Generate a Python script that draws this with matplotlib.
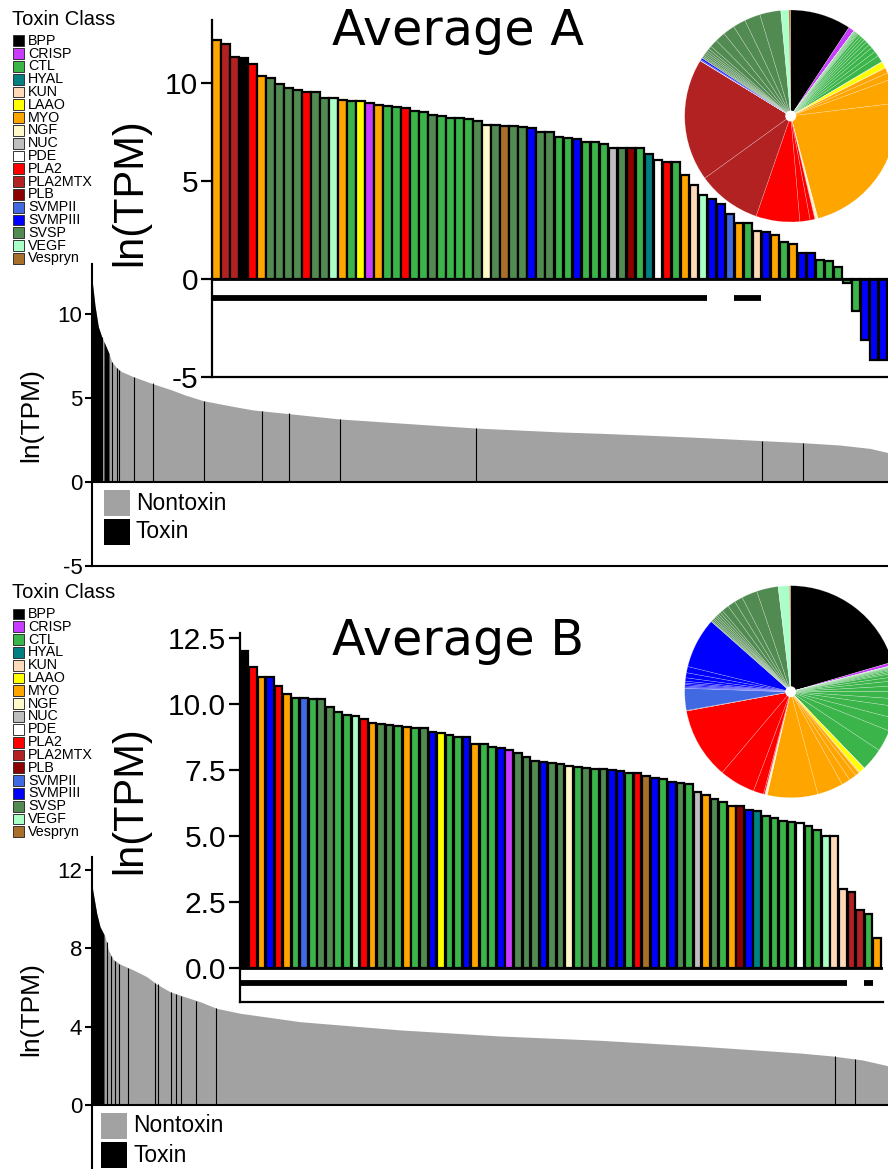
#! python3
import numpy as np
import matplotlib
matplotlib.use("Agg")
from matplotlib import pyplot as plt
from matplotlib.patches import Rectangle, Circle

W, H = 888, 1169
plt.rcParams['font.family'] = ['Liberation Sans', 'DejaVu Sans']
plt.rcParams['axes.unicode_minus'] = False

# --------- DATA ---------

classes = ['BPP', 'CRISP', 'CTL', 'HYAL', 'KUN', 'LAAO', 'MYO', 'NGF', 'NUC', 'PDE',
           'PLA2', 'PLA2MTX', 'PLB', 'SVMPII', 'SVMPIII', 'SVSP', 'VEGF', 'Vespryn']
class_colors = ['#000000', '#C83CFF', '#3BB44A', '#008080', '#FFDAB9', '#FFFF00', '#FFA500', '#FFF8C8',
                '#BEBEBE', '#FFFFFF', '#FF0000', '#B22222', '#8B0000', '#4169E1', '#0000FF', '#528B52',
                '#AAFFC8', '#A86F2A']
col = dict(zip(classes, class_colors))

# toxin transcripts, average A (ln TPM, sorted)
a_class = ['MYO', 'PLA2MTX', 'PLA2MTX', 'BPP', 'PLA2', 'MYO', 'SVSP', 'SVSP', 'SVSP', 'SVSP',
           'PLA2', 'SVSP', 'SVSP', 'VEGF', 'MYO', 'CTL', 'LAAO', 'CRISP', 'MYO', 'CTL',
           'CTL', 'PLA2', 'CTL', 'CTL', 'SVSP', 'CTL', 'CTL', 'CTL', 'CTL', 'SVSP',
           'NGF', 'SVSP', 'Vespryn', 'SVSP', 'SVSP', 'SVMPIII', 'SVSP', 'SVSP', 'CTL', 'CTL',
           'SVMPIII', 'CTL', 'CTL', 'CTL', 'NUC', 'SVSP', 'PLB', 'CTL', 'HYAL', 'PDE',
           'PLA2', 'CTL', 'MYO', 'KUN', 'VEGF', 'SVMPIII', 'SVMPIII', 'SVMPII', 'MYO', 'CTL',
           'KUN', 'SVMPIII', 'MYO', 'CTL', 'MYO', 'SVMPIII', 'SVMPIII', 'CTL', 'CTL', 'CTL',
           'CTL', 'CTL', 'SVMPIII', 'SVMPIII', 'SVMPIII']
a_val = [12.2, 12.0, 11.35, 11.3, 10.97, 10.37, 10.24, 9.95, 9.73, 9.66,
         9.52, 9.52, 9.25, 9.25, 9.13, 9.1, 9.06, 9.0, 8.87, 8.84,
         8.8, 8.75, 8.55, 8.5, 8.36, 8.3, 8.2, 8.2, 8.15, 8.05,
         7.85, 7.85, 7.82, 7.8, 7.78, 7.7, 7.52, 7.52, 7.25, 7.18,
         7.15, 7.0, 7.0, 6.87, 6.7, 6.7, 6.7, 6.67, 6.4, 6.05,
         5.97, 5.97, 5.33, 4.82, 4.27, 4.09, 3.83, 3.32, 2.86, 2.86,
         2.43, 2.38, 2.23, 1.89, 1.81, 1.33, 1.33, 0.99, 0.9, 0.59,
         -0.19, -1.64, -3.09, -4.15, -4.15]
a_marked = [(0, 54), (58, 60)]

# toxin transcripts, average B
b_class = ['BPP', 'PLA2', 'MYO', 'SVMPIII', 'PLA2', 'MYO', 'CTL', 'SVMPII', 'CTL', 'SVSP',
           'SVSP', 'CTL', 'CTL', 'VEGF', 'PLA2', 'MYO', 'SVSP', 'SVSP', 'CTL', 'MYO',
           'CTL', 'SVSP', 'SVMPIII', 'LAAO', 'CTL', 'CTL', 'SVMPIII', 'MYO', 'CTL', 'CTL',
           'SVMPIII', 'CRISP', 'SVSP', 'SVSP', 'SVSP', 'SVMPIII', 'SVSP', 'SVSP', 'NGF', 'CTL',
           'SVSP', 'CTL', 'SVSP', 'SVMPIII', 'SVMPIII', 'CTL', 'PLA2', 'Vespryn', 'SVMPIII', 'CTL',
           'SVMPIII', 'SVSP', 'CTL', 'NUC', 'MYO', 'SVSP', 'CTL', 'MYO', 'PLB', 'SVMPIII',
           'HYAL', 'CTL', 'CTL', 'CTL', 'CTL', 'PDE', 'CTL', 'CTL', 'VEGF', 'KUN',
           'KUN', 'PLA2MTX', 'PLA2MTX', 'CTL', 'MYO']
b_val = [12.02, 11.39, 11.04, 11.04, 10.7, 10.37, 10.24, 10.21, 10.19, 10.19,
         9.87, 9.7, 9.58, 9.53, 9.45, 9.28, 9.24, 9.19, 9.15, 9.11,
         9.1, 9.08, 8.94, 8.9, 8.84, 8.76, 8.74, 8.5, 8.5, 8.38,
         8.33, 8.26, 8.16, 8.01, 7.84, 7.79, 7.75, 7.72, 7.65, 7.63,
         7.58, 7.55, 7.53, 7.49, 7.45, 7.37, 7.37, 7.27, 7.2, 7.16,
         7.03, 7.0, 6.97, 6.68, 6.55, 6.41, 6.27, 6.15, 6.15, 6.0,
         5.95, 5.77, 5.67, 5.57, 5.52, 5.49, 5.37, 5.22, 5.0, 5.0,
         2.98, 2.89, 2.19, 2.05, 1.13]
b_marked = [(0, 70), (73, 73)]

# all transcripts (rank, ln TPM)
bg_a_rank = [0, 0.3, 3, 6.3, 9.7, 12, 17, 19.7, 24.7, 29.7, 41.3, 59.7, 79.7, 93, 111.3,
             143, 161, 248, 328, 384.7, 468, 508, 558, 608, 658, 708, 748, 778, 796]
bg_a_val = [12.2, 11.9, 10.5, 9.25, 8.65, 8.35, 7.65, 7.16, 6.8, 6.57, 6.27, 5.87, 5.48, 5.18, 4.84,
            4.48, 4.29, 3.75, 3.43, 3.21, 2.98, 2.9, 2.78, 2.65, 2.5, 2.35, 2.2, 2.0, 1.75]
bg_a_blocks = [(0, 9.7), (12, 17)]
bg_a_tox_rank = [9.7, 19.7, 24.7, 27.3, 41.7, 60.7, 112.3, 170.3, 197.3, 248.3, 384.3, 670, 711]
bg_a_tox_val = [8.65, 7.16, 6.8, 6.65, 6.27, 5.87, 4.84, 4.25, 4.1, 3.75, 3.21, 2.42, 2.33]

bg_b_rank = [0, 0.7, 4.7, 8, 12, 13, 16.3, 21.3, 28, 41.3, 54.7, 64.7, 78, 94.7, 108,
             124.7, 148, 208, 308, 408, 508, 608, 708, 740, 770, 796]
bg_b_val = [11.3, 10.97, 9.78, 9.1, 8.7, 8.59, 7.91, 7.43, 7.19, 6.89, 6.55, 6.17, 5.78, 5.49, 5.27,
            4.93, 4.68, 4.25, 3.83, 3.52, 3.3, 3.0, 2.65, 2.5, 2.3, 2.0]
bg_b_blocks = [(0, 12)]
bg_b_tox_rank = [14.7, 19, 23, 27.3, 35.7, 63, 66.3, 78.7, 83.7, 88.7, 103.7, 123.7, 743, 763]
bg_b_tox_val = [8.3, 7.6, 7.35, 7.2, 7.0, 6.22, 6.15, 5.78, 5.68, 5.58, 5.33, 4.95, 2.48, 2.36]

GRAY = '#A2A2A2'

# --------- UTILITY METHODS ---------

# figure rect from pixel box (left, top, right, bottom)
def px_box(l, t, r, b):
    return [l / W, 1 - b / H, (r - l) / W, (b - t) / H]

def background(rect, ylim, yticks, rank, val, blocks, tox_rank, tox_val, lab_xy, bottom_spine):
    ax = fig.add_axes(rect)
    rank = np.array(rank)
    val = np.array(val)
    ax.fill_between(rank, 0, val, color=GRAY, lw=0)
    for s, e in blocks:
        m = (rank >= s) & (rank <= e)
        ax.fill_between(rank[m], 0, val[m], color='black', lw=0)
    ax.vlines(tox_rank, 0, tox_val, color='black', lw=0.8)
    ax.axhline(0, color='black', lw=1.5)
    ax.set_xlim(0, 796)
    ax.set_ylim(ylim)
    for s in ['top', 'right']:
        ax.spines[s].set_visible(False)
    ax.spines['left'].set_linewidth(1.5)
    ax.spines['bottom'].set_linewidth(1.5)
    ax.spines['bottom'].set_visible(bottom_spine)
    ax.set_xticks([])
    ax.set_yticks(yticks)
    ax.tick_params(axis='y', labelsize=16, length=5, width=1.5, pad=2)
    ax.set_ylabel('ln(TPM)', fontsize=19, va='center')
    ax.yaxis.set_label_coords(*lab_xy)
    return ax

def inset(rect, cls, vals, ylim, yticks, ticklabels, xright, marked, mark_y, lab_xy):
    ax = fig.add_axes(rect)
    ax.patch.set_alpha(0)
    x = np.arange(len(vals))
    ax.bar(x, vals, width=0.9, color=[col[c] for c in cls], edgecolor='black', linewidth=1.6)
    ax.axhline(0, color='black', lw=2)
    for s, e in marked:
        ax.plot([s - 0.5, e + 0.5], [mark_y, mark_y], color='black', lw=4.2, solid_capstyle='butt')
    ax.set_xlim(-0.5, xright)
    ax.set_ylim(ylim)
    for s in ['top', 'right']:
        ax.spines[s].set_visible(False)
    ax.spines['left'].set_linewidth(1.6)
    ax.spines['bottom'].set_linewidth(1.6)
    ax.set_xticks([])
    ax.set_yticks(yticks)
    ax.set_yticklabels(ticklabels)
    ax.tick_params(axis='y', labelsize=21.5, length=8, width=1.6, pad=2)
    ax.set_ylabel('ln(TPM)', fontsize=30, va='center')
    ax.yaxis.set_label_coords(*lab_xy)
    return ax

def pie(cx, cy, r, cls, vals):
    ax = fig.add_axes(px_box(cx - r, cy - r, cx + r, cy + r))
    order = []
    for c in classes:
        idx = [i for i in range(len(cls)) if cls[i] == c]
        order += sorted(idx, key=lambda i: vals[i])
    sizes = np.exp(np.array(vals)[order])
    ax.pie(sizes, colors=[col[cls[i]] for i in order], startangle=90, counterclock=False,
           wedgeprops=dict(edgecolor=(1, 1, 1, 0.35), linewidth=0.4))
    ax.add_patch(Circle((0, 0), 0.045, color='white', zorder=5))
    ax.set_xlim(-1, 1)
    ax.set_ylim(-1, 1)
    ax.set_aspect('equal')
    ax.axis('off')

def class_legend(y0):
    fig.text(12 / W, 1 - y0 / H, 'Toxin Class', fontsize=14.5, va='center')
    for i, c in enumerate(classes):
        yc = y0 + 21 + 12.81 * i
        fig.patches.append(Rectangle((12.7 / W, 1 - (yc + 5.4) / H), 10.8 / W, 10.8 / H,
                                     transform=fig.transFigure, facecolor=col[c],
                                     edgecolor='#333333', lw=0.7))
        fig.text(28 / W, 1 - yc / H, c, fontsize=10.3, va='center')

def tox_legend(x0, y0):
    for i, (lab, c) in enumerate([('Nontoxin', GRAY), ('Toxin', 'black')]):
        top = y0 + 29 * i
        fig.patches.append(Rectangle((x0 / W, 1 - (top + 26) / H), 26 / W, 26 / H,
                                     transform=fig.transFigure, facecolor=c, lw=0))
        fig.text((x0 + 32) / W, 1 - (top + 13) / H, lab, fontsize=16.5, va='center')

# -----------------------------------

fig = plt.figure(figsize=(W / 100, H / 100), dpi=100)

# panel A
background(px_box(92, 263.6, 888, 566), (-5, 13), [-5, 0, 5, 10], bg_a_rank, bg_a_val,
           bg_a_blocks, bg_a_tox_rank, bg_a_tox_val, (-0.0758, 0.4975), True)
tox_legend(104, 490)
class_legend(19.7)
inset(px_box(212, 20.3, 888, 377), a_class, a_val, (-5, 13.2), [-5, 0, 5, 10],
      ['-5', '0', '5', '10'], 74.6, a_marked, -0.97, (-0.121, 0.517))
pie(790.7, 116, 106, a_class, a_val)
fig.text(458 / W, 1 - 45 / H, 'Average A', fontsize=35.5, family='DejaVu Sans', ha='center', va='baseline')

# panel B
background(px_box(92, 856.9, 888, 1169), (-3.27, 12.66), [0, 4, 8, 12], bg_b_rank, bg_b_val,
           bg_b_blocks, bg_b_tox_rank, bg_b_tox_val, (-0.0766, 0.513), False)
tox_legend(101, 1113)
class_legend(593)
inset(px_box(240, 633, 883, 1002), b_class, b_val, (-1.29, 12.69), [0, 2.5, 5, 7.5, 10, 12.5],
      ['0.0', '2.5', '5.0', '7.5', '10.0', '12.5'], 74.7, b_marked, -0.56, (-0.171, 0.547))
pie(790.7, 691.7, 106, b_class, b_val)
fig.text(458 / W, 1 - 655 / H, 'Average B', fontsize=35.5, family='DejaVu Sans', ha='center', va='baseline')

fig.savefig("out.png", dpi=100)
